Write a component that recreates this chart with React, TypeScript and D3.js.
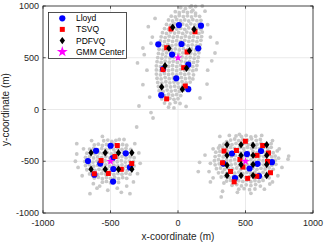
import { useEffect, useRef } from "react";
import * as d3 from "d3";

type Pt = [number, number];

const ticks = [-1000, -500, 0, 500, 1000];
const legendNames = ["Lloyd", "TSVQ", "PDFVQ", "GMM Center"];

// codewords (metres)
const lloyd: Pt[] = [
  [7, 816], [170, 810], [-146, 630], [26, 633], [150, 591], [-44, 531],
  [76, 433], [-111, 391], [-13, 301], [76, 196], [-124, 138],
  [-499, -350], [-607, -399], [-387, -423], [-667, -498], [-576, -522],
  [-484, -469], [-356, -560], [-479, -575], [-620, -630], [-481, -696],
  [400, -425], [615, -401], [336, -522], [530, -570], [589, -525],
  [696, -509], [422, -662], [600, -643], [511, -430],
];

const tsvq: Pt[] = [
  [-52, 778], [126, 751], [-84, 597], [67, 556], [-111, 386], [42, 404],
  [54, 227], [-84, 103],
  [-450, -348], [-570, -493], [-467, -454], [-343, -522], [-420, -578],
  [-516, -618], [-620, -621],
  [499, -307], [341, -401], [433, -396], [627, -348], [585, -443],
  [670, -420], [459, -483], [330, -515], [481, -556], [663, -502],
  [389, -599], [685, -611], [416, -699], [516, -665], [584, -645],
];

const pdfvq: Pt[] = [
  [-39, 794], [119, 775], [-67, 591], [85, 568], [-96, 423], [63, 398],
  [-121, 217], [32, 195],
  [-644, -418], [-539, -418], [-441, -418], [-342, -418],
  [-644, -578], [-539, -578], [-441, -578], [-342, -578],
  [363, -340], [467, -340], [556, -345], [657, -340],
  [363, -443], [467, -443], [556, -443], [657, -443],
  [363, -538], [467, -532], [556, -532], [657, -532],
  [363, -638], [467, -638], [556, -638], [657, -638],
];

const gmmCenter: Pt[] = [[0, 500], [-500, -500], [500, -500]];

// gray sample cloud
const samplesTop: Pt[] = [
  [20, 985], [55, 975], [90, 990], [130, 995], [180, 1000], [110, 960],
  [-20, 945], [10, 935], [40, 948], [70, 938], [100, 945], [130, 932],
  [-50, 902], [-20, 895], [10, 908], [40, 898], [70, 905], [100, 895], [130, 908], [160, 900],
  [-70, 865], [-40, 855], [-10, 868], [20, 858], [50, 865], [80, 855], [110, 868], [140, 858], [170, 862],
  [-85, 822], [-55, 815], [-25, 828], [5, 818], [35, 825], [65, 815], [95, 828], [125, 818], [155, 825],
  [-100, 782], [-70, 775], [-40, 788], [-10, 778], [20, 785], [50, 775], [80, 788], [110, 778], [140, 785], [170, 775],
  [-115, 742], [-85, 735], [-55, 748], [-25, 738], [5, 745], [35, 735], [65, 748], [95, 738], [125, 745], [155, 735], [180, 748],
  [-125, 702], [-95, 695], [-65, 708], [-35, 698], [-5, 705], [25, 695], [55, 708], [85, 698], [115, 705], [145, 695], [175, 705],
  [-130, 662], [-100, 655], [-70, 668], [-40, 658], [-10, 665], [20, 655], [50, 668], [80, 658], [110, 665], [140, 655], [170, 668],
  [-135, 622], [-105, 615], [-75, 628], [-45, 618], [-15, 625], [15, 615], [45, 628], [75, 618], [105, 625], [135, 615], [165, 625],
  [-140, 582], [-110, 575], [-80, 588], [-50, 578], [-20, 585], [10, 575], [40, 588], [70, 578], [100, 585], [130, 575], [160, 588],
  [-145, 542], [-115, 535], [-85, 548], [-55, 538], [-25, 545], [5, 535], [35, 548], [65, 538], [95, 545], [125, 535], [155, 548],
  [-150, 502], [-120, 495], [-90, 508], [-60, 498], [-30, 505], [0, 495], [30, 508], [60, 498], [90, 505], [120, 495], [150, 505],
  [-155, 462], [-125, 455], [-95, 468], [-65, 458], [-35, 465], [-5, 455], [25, 468], [55, 458], [85, 465], [115, 455], [145, 465],
  [-160, 422], [-130, 415], [-100, 428], [-70, 418], [-40, 425], [-10, 415], [20, 428], [50, 418], [80, 425], [110, 415], [140, 425],
  [-160, 382], [-130, 375], [-100, 388], [-70, 378], [-40, 385], [-10, 375], [20, 388], [50, 378], [80, 385], [110, 375], [135, 385],
  [-160, 342], [-130, 335], [-100, 348], [-70, 338], [-40, 345], [-10, 335], [20, 348], [50, 338], [80, 345], [115, 335],
  [-155, 302], [-125, 295], [-95, 308], [-65, 298], [-35, 305], [-5, 295], [25, 308], [55, 298], [85, 305], [110, 295],
  [-150, 262], [-120, 255], [-90, 268], [-60, 258], [-30, 265], [0, 255], [30, 268], [60, 258], [90, 265],
  [-145, 222], [-115, 215], [-85, 228], [-55, 218], [-25, 225], [5, 215], [35, 228], [65, 218],
  [-140, 182], [-110, 175], [-80, 188], [-50, 178], [-20, 185], [10, 175], [40, 188],
  [-130, 142], [-100, 135], [-70, 148], [-40, 138], [-10, 145], [20, 135],
  [-120, 102], [-90, 95], [-60, 108], [-30, 98], [0, 105],
  [-100, 62], [-60, 55], [-20, 68], [15, 58], [-70, 22], [-30, 15],
  [-250, 530], [-260, 594], [-230, 380], [-260, 240], [-210, 120], [-190, 700],
  [-220, 800], [-170, 880], [220, 820], [240, 700], [274, 546], [289, 643],
  [250, 470], [220, 380], [215, 246], [163, 111], [60, 30], [-185, -82],
  [-289, 34], [-200, -30], [200, 950], [100, 1000], [-300, 450], [-200, 640],
];

const samplesLeft: Pt[] = [
  [-550, -302], [-520, -295], [-490, -308], [-460, -298], [-435, -290],
  [-620, -342], [-590, -335], [-560, -348], [-530, -338], [-500, -345], [-470, -335], [-440, -348], [-410, -338], [-380, -345],
  [-655, -382], [-625, -375], [-595, -388], [-565, -378], [-535, -385], [-505, -375], [-475, -388], [-445, -378], [-415, -385], [-385, -375], [-350, -385],
  [-675, -422], [-645, -415], [-615, -428], [-585, -418], [-555, -425], [-525, -415], [-495, -428], [-465, -418], [-435, -425], [-405, -415], [-375, -428], [-345, -418],
  [-685, -462], [-655, -455], [-625, -468], [-595, -458], [-565, -465], [-535, -455], [-505, -468], [-475, -458], [-445, -465], [-415, -455], [-385, -468], [-355, -458], [-325, -465],
  [-690, -502], [-660, -495], [-630, -508], [-600, -498], [-570, -505], [-540, -495], [-510, -508], [-480, -498], [-450, -505], [-420, -495], [-390, -508], [-360, -498], [-330, -505],
  [-685, -542], [-655, -535], [-625, -548], [-595, -538], [-565, -545], [-535, -535], [-505, -548], [-475, -538], [-445, -545], [-415, -535], [-385, -548], [-355, -538], [-325, -545],
  [-675, -582], [-645, -575], [-615, -588], [-585, -578], [-555, -585], [-525, -575], [-495, -588], [-465, -578], [-435, -585], [-405, -575], [-375, -588], [-345, -578],
  [-655, -622], [-625, -615], [-595, -628], [-565, -618], [-535, -625], [-505, -615], [-475, -628], [-445, -618], [-415, -625], [-385, -615], [-355, -625],
  [-620, -662], [-590, -655], [-560, -668], [-530, -658], [-500, -665], [-470, -655], [-440, -668], [-410, -658], [-380, -665],
  [-560, -702], [-530, -695], [-500, -708], [-470, -698], [-440, -705],
  [-750, -430], [-740, -560], [-750, -330], [-710, -640], [-627, -717], [-652, -813],
  [-600, -760], [-520, -780], [-450, -760], [-380, -740], [-330, -700], [-300, -620],
  [-290, -420], [-320, -330], [-400, -290], [-560, -260], [-640, -300], [-356, -813],
  [-306, -169], [-760, -500], [-580, -740], [-420, -800], [-700, -380], [-280, -520],
];

const samplesRight: Pt[] = [
  [430, -255], [470, -262], [505, -250], [540, -265], [575, -258], [455, -240],
  [390, -295], [420, -285], [450, -300], [480, -288], [515, -296], [545, -283], [580, -298], [610, -290], [360, -310],
  [340, -335], [370, -325], [400, -340], [430, -328], [460, -338], [490, -325], [520, -340], [550, -330], [585, -338], [615, -326], [645, -340], [310, -350],
  [300, -372], [330, -365], [360, -378], [390, -366], [420, -375], [455, -368], [485, -378], [515, -365], [545, -375], [575, -368], [605, -378], [635, -366], [665, -375], [690, -365],
  [280, -412], [310, -405], [340, -418], [370, -408], [400, -415], [430, -405], [460, -418], [490, -408], [520, -415], [555, -405], [585, -418], [615, -408], [645, -415], [675, -405], [705, -418],
  [275, -455], [305, -445], [335, -458], [365, -448], [395, -455], [425, -445], [455, -458], [485, -448], [515, -455], [545, -445], [575, -458], [605, -448], [635, -455], [665, -445], [695, -458], [720, -450],
  [270, -495], [300, -485], [330, -498], [360, -488], [390, -495], [420, -485], [450, -498], [480, -488], [510, -495], [540, -485], [570, -498], [600, -488], [630, -495], [660, -485], [690, -498], [720, -490],
  [275, -535], [305, -525], [335, -538], [365, -528], [395, -535], [425, -525], [455, -538], [485, -528], [515, -535], [545, -525], [575, -538], [605, -528], [635, -535], [665, -525], [695, -538], [725, -530],
  [285, -572], [315, -565], [345, -578], [375, -568], [405, -575], [435, -565], [465, -578], [495, -568], [525, -575], [555, -565], [585, -578], [615, -568], [645, -575], [675, -565], [705, -578],
  [300, -612], [330, -605], [360, -618], [390, -608], [420, -615], [450, -605], [480, -618], [510, -608], [540, -615], [570, -605], [600, -618], [630, -608], [660, -615], [690, -605],
  [320, -652], [350, -645], [380, -658], [410, -648], [440, -655], [470, -645], [500, -658], [530, -648], [560, -655], [590, -645], [620, -658], [650, -648], [675, -660],
  [360, -692], [390, -685], [420, -698], [450, -688], [480, -695], [510, -685], [540, -698], [570, -688], [600, -695], [630, -685],
  [400, -732], [435, -725], [470, -738], [505, -728], [540, -735], [575, -725], [610, -740],
  [450, -770], [490, -765], [530, -775], [570, -768],
  [160, -510], [200, -440], [150, -600], [260, -660], [330, -790], [310, -260],
  [380, -250], [620, -250], [700, -300], [750, -380], [820, -450], [815, -480],
  [770, -560], [740, -640], [700, -700], [640, -770], [320, -845], [440, -800],
  [260, -380], [240, -520], [690, -330], [735, -400], [240, -700], [340, -710],
  [745, -470], [680, -720], [540, -810], [230, -600],
];

export default function App() {
  const svgRef = useRef<SVGSVGElement>(null);
  const width = 324;
  const height = 243;

  useEffect(() => {
    if (!svgRef.current) return;
    const svg = d3.select(svgRef.current);
    svg.selectAll("*").remove();

    const left = 43, right = 313, top = 6, bottom = 213;
    const x = d3.scaleLinear().domain([-1000, 1000]).range([left, right]);
    const y = d3.scaleLinear().domain([-1000, 1000]).range([bottom, top]);
    const font = "'Liberation Sans', Arial, Helvetica, sans-serif";
    const axisColor = "#262626";

    svg.append("rect").attr("width", width).attr("height", height).attr("fill", "#fff");

    // grid
    ticks.forEach((t) => {
      svg.append("line")
        .attr("x1", x(t)).attr("x2", x(t)).attr("y1", top).attr("y2", bottom)
        .attr("stroke", "#e4e4e4").attr("stroke-width", 0.8);
      svg.append("line")
        .attr("x1", left).attr("x2", right).attr("y1", y(t)).attr("y2", y(t))
        .attr("stroke", "#e4e4e4").attr("stroke-width", 0.8);
    });

    // gray samples
    const samples = [...samplesTop, ...samplesLeft, ...samplesRight];
    svg.append("g")
      .selectAll("circle")
      .data(samples)
      .join("circle")
      .attr("cx", (d) => x(d[0]))
      .attr("cy", (d) => y(d[1]))
      .attr("r", 1.9)
      .attr("fill", "#c8c8c8");

    const diamond = "M0,-3.7L2.7,0L0,3.7L-2.7,0Z";
    const star = d3.symbol().type(d3.symbolStar).size(22)();

    const drawCircle = (g: any, cx: number, cy: number) =>
      g.append("circle").attr("cx", cx).attr("cy", cy).attr("r", 3.1).attr("fill", "#0000ff");
    const drawSquare = (g: any, cx: number, cy: number) =>
      g.append("rect").attr("x", cx - 2.5).attr("y", cy - 2.5).attr("width", 5).attr("height", 5).attr("fill", "#ff0000");
    const drawDiamond = (g: any, cx: number, cy: number) =>
      g.append("path").attr("d", diamond).attr("transform", `translate(${cx},${cy})`).attr("fill", "#000");
    const drawStar = (g: any, cx: number, cy: number, s = 1) =>
      g.append("path").attr("d", star).attr("transform", `translate(${cx},${cy}) scale(${s})`).attr("fill", "#ff00ff");

    const marks = svg.append("g");
    lloyd.forEach((d) => drawCircle(marks, x(d[0]), y(d[1])));
    tsvq.forEach((d) => drawSquare(marks, x(d[0]), y(d[1])));
    pdfvq.forEach((d) => drawDiamond(marks, x(d[0]), y(d[1])));
    gmmCenter.forEach((d) => drawStar(marks, x(d[0]), y(d[1])));

    // box and ticks
    svg.append("rect")
      .attr("x", left).attr("y", top)
      .attr("width", right - left).attr("height", bottom - top)
      .attr("fill", "none").attr("stroke", axisColor).attr("stroke-width", 0.8);
    ticks.forEach((t) => {
      svg.append("line").attr("x1", x(t)).attr("x2", x(t)).attr("y1", bottom).attr("y2", bottom - 2.7)
        .attr("stroke", axisColor).attr("stroke-width", 0.8);
      svg.append("line").attr("x1", x(t)).attr("x2", x(t)).attr("y1", top).attr("y2", top + 2.7)
        .attr("stroke", axisColor).attr("stroke-width", 0.8);
      svg.append("line").attr("x1", left).attr("x2", left + 2.7).attr("y1", y(t)).attr("y2", y(t))
        .attr("stroke", axisColor).attr("stroke-width", 0.8);
      svg.append("line").attr("x1", right).attr("x2", right - 2.7).attr("y1", y(t)).attr("y2", y(t))
        .attr("stroke", axisColor).attr("stroke-width", 0.8);

      svg.append("text")
        .attr("x", x(t)).attr("y", bottom + 13)
        .attr("text-anchor", "middle")
        .attr("font-family", font).attr("font-size", 9).attr("fill", axisColor)
        .text(String(t));
      svg.append("text")
        .attr("x", left - 4).attr("y", y(t) + 3.2)
        .attr("text-anchor", "end")
        .attr("font-family", font).attr("font-size", 9).attr("fill", axisColor)
        .text(String(t));
    });

    // axis labels
    svg.append("text")
      .attr("x", (left + right) / 2).attr("y", 240)
      .attr("text-anchor", "middle")
      .attr("font-family", font).attr("font-size", 10).attr("fill", axisColor)
      .text("x-coordinate (m)");
    svg.append("text")
      .attr("transform", `translate(9,${(top + bottom) / 2}) rotate(-90)`)
      .attr("text-anchor", "middle")
      .attr("font-family", font).attr("font-size", 10).attr("fill", axisColor)
      .text("y-coordinate (m)");

    // legend
    const lg = svg.append("g");
    lg.append("rect")
      .attr("x", 48.5).attr("y", 12.5).attr("width", 78).attr("height", 46)
      .attr("fill", "#fff").attr("stroke", axisColor).attr("stroke-width", 0.8);
    const rowY = [18.3, 29.4, 40.6, 51.7];
    drawCircle(lg, 62.3, rowY[0]);
    drawSquare(lg, 62.3, rowY[1]);
    drawDiamond(lg, 62.3, rowY[2]);
    drawStar(lg, 62.3, rowY[3], 1.3);
    legendNames.forEach((name, i) => {
      lg.append("text")
        .attr("x", 76).attr("y", rowY[i] + 3)
        .attr("font-family", font).attr("font-size", 8.5).attr("fill", "#000")
        .text(name);
    });
  }, []);

  return (
    <div style={{ position: "absolute", left: 0, top: 0 }}>
      <svg ref={svgRef} width={width} height={height} style={{ display: "block" }} />
    </div>
  );
}
